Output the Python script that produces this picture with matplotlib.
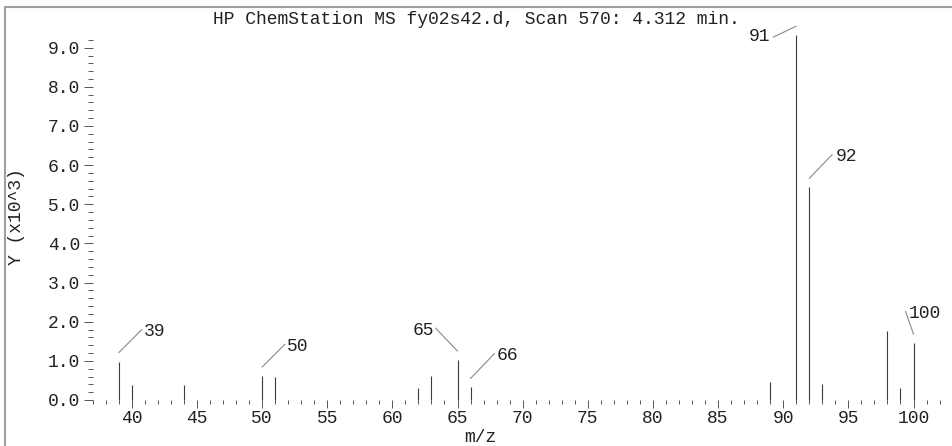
import numpy as np
import matplotlib
matplotlib.use("Agg")
import matplotlib.pyplot as plt
from matplotlib.ticker import MultipleLocator, FormatStrFormatter
from matplotlib.transforms import offset_copy
from matplotlib.patches import Rectangle

# mass spectrum, scan 570 at 4.312 min
mz = [39, 40, 44, 50, 51, 62, 63, 65, 66, 89, 91, 92, 93, 98, 99, 100]
abundance = [980, 380, 380, 610, 580, 310, 610, 1020, 320, 460,
             9320, 5430, 400, 1770, 310, 1450]

# peaks that get a label
labeled = [39, 50, 65, 66, 91, 92, 100]

title = "HP ChemStation MS fy02s42.d, Scan 570: 4.312 min."

plt.rcParams['font.family'] = ['Liberation Mono', 'DejaVu Sans Mono']
plt.rcParams['font.size'] = 13

W, H = 953, 446
fig = plt.figure(figsize=(W / 100, H / 100), dpi=100)

# axes box in pixels
left, right, bottom, top = 92.7, 952.6, 400, 37.9
ax = fig.add_axes([left / W, (H - bottom) / H, (right - left) / W, (bottom - top) / H])

y = np.array(abundance) / 1000.0
ax.vlines(mz, 0, y, colors='#3a3a3a', lw=0.8, clip_on=False)

ax.set_xlim(37, 103)
ax.set_ylim(0, 9.25)
for s in ax.spines.values():
    s.set_visible(False)

ax.xaxis.set_major_locator(MultipleLocator(5))
ax.xaxis.set_minor_locator(MultipleLocator(1))
ax.yaxis.set_major_locator(MultipleLocator(1))
ax.yaxis.set_minor_locator(MultipleLocator(0.2))
ax.yaxis.set_major_formatter(FormatStrFormatter('%.1f'))

tc = '#555555'
ax.tick_params(axis='x', which='major', length=5.8, width=0.7, color=tc, pad=1.5, labelcolor='#222222')
ax.tick_params(axis='x', which='minor', length=2.9, width=0.7, color=tc)
ax.tick_params(axis='y', which='major', length=6.5, width=0.7, color=tc, pad=2.5, labelcolor='#222222')
ax.tick_params(axis='y', which='minor', length=3.6, width=0.7, color=tc)

# leader lines: (dx, dy) in pixels from a point just above the peak, then text offset
leaders = {
    39: (23, 23, 2, 'left'),
    50: (23, 23, 2, 'left'),
    65: (-22, 23, -1, 'right'),
    66: (24, 25, 2, 'left'),
    91: (-23, -11, -3, 'right'),
    92: (23, 24, 3, 'left'),
    100: (-8, 23, 3, 'left'),
}
above = offset_copy(ax.transData, fig=fig, x=0, y=9, units='dots')
for m in labeled:
    h = y[mz.index(m)]
    dx, dy, tx, ha = leaders[m]
    ax.annotate('', xy=(m, h), xycoords=above, xytext=(dx, dy),
                textcoords='offset pixels',
                arrowprops=dict(arrowstyle='-', color='#8a8a8a', lw=0.8,
                                shrinkA=0, shrinkB=0),
                annotation_clip=False)
    ty = 3 if m == 91 else 0
    ax.annotate(str(m), xy=(m, h), xycoords=above, xytext=(dx + tx, dy + ty),
                textcoords='offset pixels', ha=ha, va='center_baseline',
                color='#222222', annotation_clip=False)

fig.text(0.5, 1 - 20 / H, title, ha='center', va='center', color='#222222')
fig.text(480 / W, 1 - 437 / H, 'm/z', ha='center', va='center', color='#222222')
fig.text(17 / W, 1 - 217 / H, 'Y (x10^3)', ha='center', va='center',
         rotation=90, color='#222222')

# frame around the plot
fig.add_artist(Rectangle((5 / W, -0.2), 2, 1.2 - 6.5 / H, transform=fig.transFigure,
                         fill=False, edgecolor='#a0a0a0', lw=1.5))

fig.savefig('out.png', dpi=100)
